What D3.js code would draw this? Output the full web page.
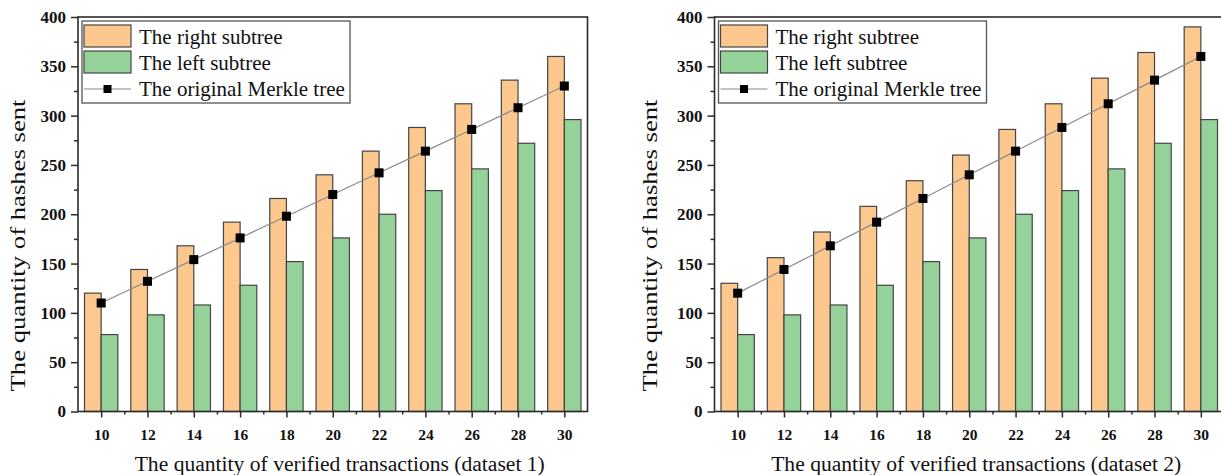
<!DOCTYPE html>
<html>
<head>
<meta charset="utf-8">
<script src="https://cdn.jsdelivr.net/npm/d3@7"></script>
<style>
  body { margin: 0; background: #fff; }
  svg { display: block; font-family: "Liberation Serif", "Times New Roman", serif; }
</style>
</head>
<body>
<div id="chart"></div>
<script>
var width = 1221,
	height = 475;

// data
var transactions = [10, 12, 14, 16, 18, 20, 22, 24, 26, 28, 30];
var rightSubtree1 = [120, 144, 168, 192, 216, 240, 264, 288, 312, 336, 360];
var leftSubtree1 = [78, 98, 108, 128, 152, 176, 200, 224, 246, 272, 296];
var merkle1 = [110, 132, 154, 176, 198, 220, 242, 264, 286, 308, 330];
var rightSubtree2 = [130, 156, 182, 208, 234, 260, 286, 312, 338, 364, 390];
var leftSubtree2 = [78, 98, 108, 128, 152, 176, 200, 224, 246, 272, 296];
var merkle2 = [120, 144, 168, 192, 216, 240, 264, 288, 312, 336, 360];
var yTicks = [0, 50, 100, 150, 200, 250, 300, 350, 400];
var legendLabels = ['The right subtree', 'The left subtree', 'The original Merkle tree'];

var ORANGE = '#fdc88d',
	GREEN = '#94d29a',
	EDGE = '#454545',
	AXIS = '#2b2b2b';

var svg = d3.select('#chart').append('svg')
	.attr('width', width)
	.attr('height', height);

function drawPanel(left, right, right1, left1, merkle, dataset, titleX) {
	var top = 17, bottom = 411.5;
	var x = d3.scaleLinear().domain([9, 31]).range([left, right]);
	var y = d3.scaleLinear().domain([0, 400]).range([bottom, top]);
	var bw = x(10.72) - x(10);

	var g = svg.append('g');

	// bars
	g.selectAll('rect.right')
		.data(transactions)
		.enter()
		.append('rect')
		.classed('right', true)
		.attr('x', d => x(d) - bw)
		.attr('y', (d, i) => y(right1[i]))
		.attr('width', bw)
		.attr('height', (d, i) => y(0) - y(right1[i]))
		.attr('fill', ORANGE)
		.attr('stroke', EDGE)
		.attr('stroke-width', 1.2);

	g.selectAll('rect.left')
		.data(transactions)
		.enter()
		.append('rect')
		.classed('left', true)
		.attr('x', d => x(d))
		.attr('y', (d, i) => y(left1[i]))
		.attr('width', bw)
		.attr('height', (d, i) => y(0) - y(left1[i]))
		.attr('fill', GREEN)
		.attr('stroke', EDGE)
		.attr('stroke-width', 1.2);

	// merkle line
	var line = d3.line()
		.x(d => x(d[0]))
		.y(d => y(d[1]));
	var pts = transactions.map((d, i) => [d, merkle[i]]);
	g.append('path')
		.attr('d', line(pts))
		.attr('fill', 'none')
		.attr('stroke', '#8a8a8a')
		.attr('stroke-width', 1.2);
	g.selectAll('rect.dot')
		.data(pts)
		.enter()
		.append('rect')
		.classed('dot', true)
		.attr('x', d => x(d[0]) - 4.5)
		.attr('y', d => y(d[1]) - 4.5)
		.attr('width', 9)
		.attr('height', 9)
		.attr('fill', '#000');

	// frame
	g.append('rect')
		.attr('x', left)
		.attr('y', top)
		.attr('width', right - left)
		.attr('height', bottom - top)
		.attr('fill', 'none')
		.attr('stroke', AXIS)
		.attr('stroke-width', 1.6);

	// y axis
	var yAxis = g.append('g')
		.classed('yaxis', true)
		.attr('transform', 'translate(' + left + ',0)')
		.call(d3.axisLeft(y).tickValues(yTicks).tickSize(7).tickPadding(5));
	g.append('g')
		.attr('transform', 'translate(' + left + ',0)')
		.call(d3.axisLeft(y).tickValues(d3.range(25, 400, 50)).tickSize(4).tickFormat(''));

	// x axis
	var xAxis = g.append('g')
		.classed('xaxis', true)
		.attr('transform', 'translate(0,' + bottom + ')')
		.call(d3.axisBottom(x).tickValues(transactions).tickSize(6).tickPadding(11));
	g.append('g')
		.attr('transform', 'translate(0,' + bottom + ')')
		.call(d3.axisBottom(x).tickValues(d3.range(11, 31, 2)).tickSize(3).tickFormat(''));

	g.selectAll('.domain').remove();
	g.selectAll('.tick line').attr('stroke', AXIS).attr('stroke-width', 1.5);
	g.selectAll('.tick text')
		.attr('fill', '#111')
		.style('font-family', '"Liberation Serif", serif')
		.style('font-weight', 'bold');
	xAxis.selectAll('.tick text').style('font-size', '15.5px');
	yAxis.selectAll('.tick text').style('font-size', '17px');

	// titles
	g.append('text')
		.attr('x', x(20) + 7)
		.attr('y', 471)
		.attr('text-anchor', 'middle')
		.style('font-size', '21.6px')
		.attr('fill', '#111')
		.text('The quantity of verified transactions (dataset ' + dataset + ')');

	g.append('text')
		.attr('transform', 'translate(' + titleX + ',245.5) rotate(-90)')
		.attr('text-anchor', 'middle')
		.attr('dy', '0.35em')
		.attr('textLength', 292)
		.attr('lengthAdjust', 'spacingAndGlyphs')
		.style('font-size', '21px')
		.attr('fill', '#111')
		.text('The quantity of hashes sent');

	// legend
	var lg = g.append('g').attr('transform', 'translate(' + (left + 4) + ',21)');
	lg.append('rect')
		.attr('width', 268)
		.attr('height', 82)
		.attr('fill', '#fff')
		.attr('stroke', '#555')
		.attr('stroke-width', 1.3);
	[ORANGE, GREEN].forEach(function(c, i) {
		lg.append('rect')
			.attr('x', 2)
			.attr('y', 4 + i * 26)
			.attr('width', 47)
			.attr('height', 22)
			.attr('fill', c)
			.attr('stroke', EDGE)
			.attr('stroke-width', 1.2);
	});
	lg.append('line')
		.attr('x1', 2).attr('x2', 49)
		.attr('y1', 68).attr('y2', 68)
		.attr('stroke', '#8a8a8a')
		.attr('stroke-width', 1.2);
	lg.append('rect')
		.attr('x', 21.5).attr('y', 64)
		.attr('width', 8).attr('height', 8)
		.attr('fill', '#000');
	lg.selectAll('text.lab')
		.data(legendLabels)
		.enter()
		.append('text')
		.classed('lab', true)
		.attr('x', 57)
		.attr('y', (d, i) => [16, 42, 68][i])
		.attr('dy', '0.35em')
		.style('font-size', '21px')
		.attr('fill', '#111')
		.text(d => d);
}

drawPanel(78, 587.5, rightSubtree1, leftSubtree1, merkle1, 1, 18);
drawPanel(714.5, 1224, rightSubtree2, leftSubtree2, merkle2, 2, 650);
</script>
</body>
</html>
